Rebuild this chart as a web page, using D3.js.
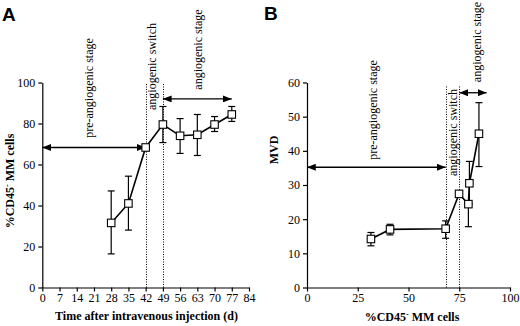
<!DOCTYPE html>
<html>
<head>
<meta charset="utf-8">
<script src="https://cdn.jsdelivr.net/npm/d3@7"></script>
<style>
  body { margin: 0; background: #fff; }
</style>
</head>
<body>
<svg id="chart" width="520" height="326"></svg>
<script>
// panel A: % CD45- MM cells vs days after injection
var daysA = [28, 35, 42, 49, 56, 63, 70, 77];
var cd45A = [31.5, 41, 68.3, 79.5, 74, 74.5, 79.5, 84.4];
var cd45ALo = [16.4, 28, null, 70.7, 65.4, 64.4, 76.1, 81];
var cd45AHi = [47.1, 54.3, null, 88.3, 82.4, 84.4, 83.4, 88.3];
var ticksXA = [0, 7, 14, 21, 28, 35, 42, 49, 56, 63, 70, 77, 84];
var ticksYA = [0, 20, 40, 60, 80, 100];
var switchA = [42, 49];

// panel B: MVD vs % CD45- MM cells
var cd45B = [31.5, 40.9, 68.3, 74.9, 79.5, 80, 84.7];
var mvdB = [14.2, 17, 17.2, 27.4, 24.4, 30.5, 45];
var mvdBLo = [12.2, 15.4, 14.4, null, 17.8, 24.4, 35.4];
var mvdBHi = [16.1, 18.5, 19.5, null, null, 36.9, 54.1];
var ticksXB = [0, 25, 50, 75, 100];
var ticksYB = [0, 10, 20, 30, 40, 50, 60];
var switchB = [68.3, 75];

var SERIF = "'Liberation Serif', 'DejaVu Serif', serif";

var svg = d3.select("#chart");

var defs = svg.append("defs");
defs.append("marker").attr("id", "head")
    .attr("viewBox", "0 0 10 8").attr("refX", 10).attr("refY", 4)
    .attr("markerWidth", 9).attr("markerHeight", 7).attr("markerUnits", "userSpaceOnUse")
    .attr("orient", "auto-start-reverse")
  .append("path").attr("d", "M0,0L10,4L0,8Z").attr("fill", "#000");

var panel = function(o) {
    var x = d3.scaleLinear().domain(o.xDomain).range(o.xRange),
        y = d3.scaleLinear().domain(o.yDomain).range([287.5, 82.5]);
    var g = svg.append("g");

    var xa = g.append("g")
        .attr("transform", "translate(0,287.5)")
        .call(d3.axisBottom(x).tickValues(o.xTicks).tickSize(4).tickSizeOuter(0).tickPadding(2));
    var ya = g.append("g")
        .attr("transform", "translate(" + o.xRange[0] + ",0)")
        .call(d3.axisLeft(y).tickValues(o.yTicks).tickSize(4).tickSizeOuter(0).tickPadding(3));
    [xa, ya].forEach(function(a) {
        a.attr("font-family", SERIF).attr("font-size", 12);
        a.selectAll("path, line").attr("stroke", "#000").attr("stroke-width", 1.2);
        a.selectAll("text").attr("fill", "#000");
    });

    // stage boundaries (snapped to the pixel grid so the dots stay dark)
    g.selectAll(".switch")
        .data(o.switchAt)
        .enter().append("line")
        .attr("x1", function(d) { return Math.round(x(d)) + 0.5; })
        .attr("x2", function(d) { return Math.round(x(d)) + 0.5; })
        .attr("y1", y(0))
        .attr("y2", y(o.switchTop))
        .attr("stroke", "#000")
        .attr("stroke-width", 1)
        .attr("stroke-dasharray", "1,1.5");

    // stage arrows
    o.arrows.forEach(function(a) {
        g.append("line")
            .attr("x1", x(a[0])).attr("x2", x(a[1]))
            .attr("y1", y(a[2])).attr("y2", y(a[2]))
            .attr("stroke", "#000").attr("stroke-width", 1.3)
            .attr("marker-start", "url(#head)").attr("marker-end", "url(#head)");
    });

    // stage labels
    o.notes.forEach(function(n) {
        g.append("text")
            .attr("transform", "translate(" + x(n[1]) + "," + n[2] + ") rotate(-90)")
            .attr("text-anchor", "middle")
            .attr("dy", "0.33em")
            .attr("font-family", SERIF)
            .attr("font-size", 12)
            .text(n[0]);
    });

    var pts = o.xs.map(function(d, i) {
        return {x: d, y: o.ys[i], lo: o.lo[i], hi: o.hi[i]};
    });

    // error bars
    pts.forEach(function(p) {
        [p.lo, p.hi].forEach(function(e) {
            if (e == null) return;
            g.append("line")
                .attr("x1", x(p.x)).attr("x2", x(p.x))
                .attr("y1", y(p.y)).attr("y2", y(e))
                .attr("stroke", "#000").attr("stroke-width", 1.2);
            g.append("line")
                .attr("x1", x(p.x) - 3.5).attr("x2", x(p.x) + 3.5)
                .attr("y1", y(e)).attr("y2", y(e))
                .attr("stroke", "#000").attr("stroke-width", 1.2);
        });
    });

    g.append("path")
        .datum(pts)
        .attr("fill", "none")
        .attr("stroke", "#000")
        .attr("stroke-width", 1.6)
        .attr("d", d3.line().x(function(d) { return x(d.x); }).y(function(d) { return y(d.y); }));

    g.selectAll(".pt")
        .data(pts)
        .enter().append("rect")
        .attr("class", "pt")
        .attr("x", function(d) { return x(d.x) - 3.75; })
        .attr("y", function(d) { return y(d.y) - 3.75; })
        .attr("width", 7.5)
        .attr("height", 7.5)
        .attr("fill", "#fff")
        .attr("stroke", "#000")
        .attr("stroke-width", 1.1);

    return [x, y];
};

var cd45Label = function(t) {
    t.append("tspan").text("%CD45");
    t.append("tspan").attr("baseline-shift", "super").attr("font-size", 8).text("-");
    t.append("tspan").text(" MM cells");
};

var label = function() {
    return svg.append("text")
        .attr("font-family", SERIF)
        .attr("font-size", 12)
        .attr("font-weight", "bold")
        .attr("text-anchor", "middle");
};

// A
panel({
    xDomain: [0, 84], xRange: [42.3, 249], yDomain: [0, 100],
    xTicks: ticksXA, yTicks: ticksYA,
    switchAt: switchA, switchTop: 100,
    arrows: [[0, 42, 68.3], [49, 77, 92]],
    notes: [["pre-angiogenic stage", 19, 88], ["angiogenic switch", 44.7, 66.5], ["angiogenic stage", 63.2, 49.5]],
    xs: daysA, ys: cd45A, lo: cd45ALo, hi: cd45AHi
});

// B
panel({
    xDomain: [0, 100], xRange: [307, 510], yDomain: [0, 60],
    xTicks: ticksXB, yTicks: ticksYB,
    switchAt: switchB, switchTop: 59.3,
    arrows: [[0, 68.3, 35.2], [75, 88.5, 57]],
    notes: [["pre-angiogenic stage", 32.5, 110], ["angiogenic switch", 72, 132.5], ["angiogenic stage", 83.7, 42]],
    xs: cd45B, ys: mvdB, lo: mvdBLo, hi: mvdBHi
});

svg.append("text").attr("x", 2).attr("y", 21)
    .attr("font-family", "'Liberation Sans', Arial, sans-serif").attr("font-size", 19).attr("font-weight", "bold")
    .text("A");
svg.append("text").attr("x", 264).attr("y", 20)
    .attr("font-family", "'Liberation Sans', Arial, sans-serif").attr("font-size", 19).attr("font-weight", "bold")
    .text("B");

label().attr("x", 146.5).attr("y", 320).text("Time after intravenous injection (d)");
label().attr("transform", "translate(14,181) rotate(-90)").call(cd45Label);
label().attr("x", 412).attr("y", 321).call(cd45Label);
label().attr("transform", "translate(278,150) rotate(-90)").text("MVD");
</script>
</body>
</html>
